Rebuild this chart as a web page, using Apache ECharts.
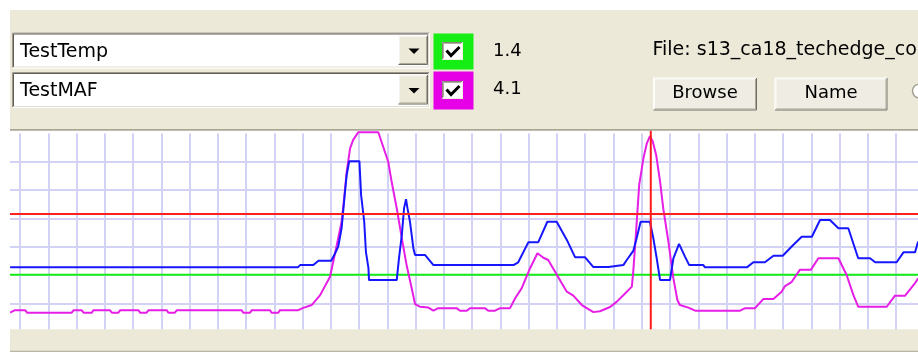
<!DOCTYPE html>
<html>
<head>
<meta charset="utf-8">
<script src="https://cdn.jsdelivr.net/npm/echarts@6/dist/echarts.min.js"></script>
<style>
html, body { margin: 0; padding: 0; background: #fff; }
#main { width: 918px; height: 352px; }
</style>
</head>
<body>
<div id="main"></div>
<script>
// selector boxes and readouts at the cursor
var channelNames = ['TestTemp', 'TestMAF'];
var channelReadouts = ['1.4', '4.1'];
var fileLabel = 'File: s13_ca18_techedge_conv.csv';
var buttonLabels = ['Browse', 'Name'];

// x: time steps (10 per grid cell), y: scaled value (10 per grid cell)
var tempPoints = [[6.5, 20.1], [327.8, 20.1]];

var mafPoints = [
  [6.5, 6.7], [8.2, 7.6], [11.8, 7.6], [12.5, 6.7], [28.3, 6.7], [29.0, 7.6], [31.8, 7.6], [32.5, 6.7],
  [35.4, 6.7], [36.0, 7.6], [41.8, 7.6], [42.5, 6.7], [44.8, 6.7], [45.5, 7.6], [51.9, 7.6], [52.5, 6.7],
  [54.8, 6.7], [55.5, 7.6], [61.9, 7.6], [62.5, 6.7], [64.8, 6.7], [65.5, 7.6], [88.4, 7.6], [89.0, 6.7],
  [91.4, 6.7], [92.0, 7.6], [98.5, 7.6], [99.0, 6.7], [101.4, 6.7], [102.0, 7.6], [108.5, 7.6], [110.0, 8.3],
  [113.2, 9.4], [116.2, 12.9], [119.7, 19.4], [122.1, 30.6], [123.8, 38.8], [124.7, 47.1], [125.6, 56.5],
  [126.8, 64.7], [127.9, 67.7], [129.7, 70.4], [136.8, 70.4], [138.3, 65.9], [140.3, 60.0], [141.5, 52.9],
  [143.3, 43.6], [145.1, 33.0], [146.8, 23.5], [148.6, 15.3], [149.8, 9.7], [151.5, 8.8], [154.5, 8.5],
  [156.3, 7.4], [158.0, 8.3], [164.5, 8.3], [165.7, 7.4], [168.1, 7.4], [169.2, 8.3], [174.5, 8.3],
  [175.7, 7.4], [178.1, 7.4], [179.9, 8.3], [183.4, 8.3], [185.2, 11.8], [187.5, 15.3], [190.5, 22.4],
  [193.1, 27.7], [195.2, 26.1], [196.9, 25.3], [199.3, 21.2], [201.7, 17.1], [203.5, 14.1], [205.8, 12.7],
  [208.8, 9.4], [212.9, 6.9], [215.2, 7.2], [218.8, 8.7], [221.2, 10.6], [224.1, 13.5], [226.5, 15.9],
  [227.0, 21.2], [228.0, 35.3], [229.1, 51.8], [230.6, 61.2], [231.8, 66.5], [232.9, 69.0], [233.9, 67.1],
  [235.1, 62.4], [236.5, 52.9], [237.6, 43.6], [239.4, 32.0], [241.2, 18.8], [242.6, 11.2], [243.5, 9.4],
  [246.5, 8.5], [248.9, 7.4], [264.8, 7.4], [266.6, 8.3], [270.1, 8.3], [273.0, 11.5], [276.6, 11.5],
  [279.5, 14.1], [280.7, 16.1], [283.1, 17.6], [286.0, 21.9], [289.9, 21.9], [292.5, 25.9], [299.6, 25.9],
  [302.5, 20.0], [304.9, 12.9], [306.6, 8.8], [316.7, 8.8], [319.6, 12.7], [323.2, 12.7], [326.7, 17.1],
  [327.8, 18.8]
];

var bluePoints = [
  [6.5, 22.7], [108.3, 22.7], [109.1, 23.5], [113.8, 23.5], [115.6, 25.0], [120.1, 25.0], [121.5, 27.7],
  [122.6, 30.0], [123.8, 36.5], [125.0, 49.4], [125.6, 55.3], [126.5, 60.2], [130.1, 60.2], [130.7, 48.2],
  [131.8, 38.8], [132.4, 28.2], [133.3, 22.4], [133.5, 18.2], [143.3, 18.2], [144.1, 25.9], [145.1, 34.1],
  [145.9, 43.6], [146.6, 46.8], [147.1, 43.6], [148.0, 38.8], [149.2, 29.4], [149.8, 27.1], [153.3, 27.1],
  [156.3, 23.5], [184.6, 23.5], [186.3, 24.5], [189.9, 31.6], [193.4, 31.6], [196.6, 38.8], [199.9, 38.8],
  [203.5, 32.4], [206.4, 26.3], [209.9, 26.3], [212.9, 22.8], [218.2, 22.8], [218.8, 23.5], [223.5, 23.5],
  [224.7, 25.3], [227.0, 28.5], [228.2, 33.0], [229.6, 38.8], [232.9, 38.8], [234.1, 33.0], [235.3, 25.9],
  [236.5, 18.2], [240.0, 18.2], [241.2, 25.9], [243.2, 31.0], [245.3, 26.5], [246.8, 23.5], [251.8, 23.5],
  [252.4, 22.7], [267.2, 22.7], [269.5, 24.5], [273.6, 24.5], [276.6, 26.8], [279.9, 26.8], [283.6, 30.6],
  [286.6, 33.5], [290.2, 33.5], [293.1, 39.4], [296.6, 39.4], [299.6, 36.5], [303.1, 36.5], [306.6, 25.9],
  [310.8, 25.9], [312.6, 24.5], [320.2, 24.5], [322.6, 28.0], [326.7, 28.0], [327.8, 31.8]
];

var redLevel = 41.5;
var cursorTime = 233.2;
var cursorSpan = [-1, 71];

var FACE = '#ECE9D8';
var FONT = '"DejaVu Sans", sans-serif';

// 3D edge of a windows control: two L shaped lines
function edge(x, y, w, h, tl, br, z) {
  return [{
    type: 'polyline', z: z, silent: true,
    shape: { points: [[x, y + h], [x, y], [x + w, y]] },
    style: { stroke: tl, lineWidth: 1, fill: null }
  }, {
    type: 'polyline', z: z, silent: true,
    shape: { points: [[x + w, y], [x + w, y + h], [x, y + h]] },
    style: { stroke: br, lineWidth: 1, fill: null }
  }];
}
function box(x, y, w, h, fill, z) {
  return { type: 'rect', z: z, silent: true, shape: { x: x, y: y, width: w, height: h }, style: { fill: fill } };
}
function label(text, x, y, align, size, z) {
  return {
    type: 'text', z: z, silent: true, x: x, y: y,
    style: { text: text, fontSize: size, fontFamily: FONT, fill: '#000', align: align, verticalAlign: 'middle' }
  };
}

var els = [];
// panels around the plot
els.push(box(0, 0, 10, 352, '#fff', 100));
els.push(box(10, 10, 908, 120, FACE, 100));
els.push(box(10, 129, 908, 1.7, '#aaa797', 100));
els.push(box(10, 329.3, 908, 22.7, FACE, 100));
els.push(box(10, 350.7, 908, 1.3, '#b8b5a6', 100));

// two combo boxes with their colour check boxes
var rowTop = [32.5, 72];
var frameColor = ['#14ee14', '#e600e6'];
rowTop.forEach(function (t, i) {
  els.push(box(12, t, 418, 36, '#fff', 101));
  els = els.concat(edge(12.5, t + 0.5, 417, 35, '#9b988b', '#ffffff', 102));
  els = els.concat(edge(13.5, t + 1.5, 415, 33, '#5f5d55', '#e3e0d3', 102));
  els.push(label(channelNames[i], 20, t + 19.5, 'left', 19, 103));
  // drop down button
  els.push(box(398, t + 2.5, 30, 30, FACE, 103));
  els = els.concat(edge(398.5, t + 3, 29, 29, '#ffffff', '#716f64', 104));
  els = els.concat(edge(399.5, t + 4, 27, 27, '#f4f3ee', '#aca899', 104));
  els.push({
    type: 'polygon', z: 105, silent: true,
    shape: { points: [[408.5, t + 16], [419.5, t + 16], [414, t + 21.5]] },
    style: { fill: '#000' }
  });
  // colour frame + check box
  var fy = i === 0 ? 33.5 : 71.5;
  els.push(box(433.5, fy, 40, i === 0 ? 36 : 38, frameColor[i], 101));
  var cy = i === 0 ? 42 : 81;
  els.push(box(442, cy, 21, 18, '#fff', 102));
  els = els.concat(edge(442.5, cy + 0.5, 20, 17, '#8a877a', '#f1efe2', 103));
  els = els.concat(edge(443.5, cy + 1.5, 18, 15, '#b0ad9f', '#ffffff', 103));
  els.push({
    type: 'polyline', z: 104, silent: true,
    shape: { points: [[446.5, cy + 8.5], [451, cy + 13.5], [459.5, cy + 5]] },
    style: { stroke: '#000', lineWidth: 3, fill: null }
  });
  els.push(label(channelReadouts[i], 493, i === 0 ? 51 : 89.5, 'left', 18, 101));
});

// file name and buttons
els.push(label(fileLabel, 652.5, 50, 'left', 19, 101));
var btnX = [653, 774.5], btnW = [104, 113];
btnX.forEach(function (x, i) {
  els.push(box(x, 77.5, btnW[i], 33, '#efede3', 101));
  els = els.concat(edge(x + 0.5, 78, btnW[i] - 1, 32, '#ffffff', '#716f64', 102));
  els = els.concat(edge(x + 1.5, 79, btnW[i] - 3, 30, '#fbfaf6', '#aca899', 102));
  els.push(label(buttonLabels[i], x + btnW[i] / 2, 93.5, 'center', 18, 103));
});
els.push({
  type: 'circle', z: 101, silent: true,
  shape: { cx: 919.5, cy: 91, r: 7 },
  style: { stroke: '#a3a091', lineWidth: 1.5, fill: '#fff' }
});

var gridLine = { show: true, showMinLine: false, showMaxLine: false, lineStyle: { color: '#d2d2f5', width: 2 } };

var chart = echarts.init(document.getElementById('main'));
chart.setOption({
  animation: false,
  backgroundColor: '#fff',
  grid: { left: -8.26, top: 133.6, width: 932.6, height: 198.07, outerBoundsMode: 'none', containLabel: false },
  xAxis: {
    type: 'value', min: 0, max: 330, interval: 10,
    axisLine: { show: false }, axisTick: { show: false }, axisLabel: { show: false },
    splitLine: gridLine
  },
  yAxis: {
    type: 'value', min: 0, max: 69.92, interval: 10,
    axisLine: { show: false }, axisTick: { show: false }, axisLabel: { show: false },
    splitLine: gridLine
  },
  series: [{
    name: 'TestTemp', type: 'line', data: tempPoints, symbol: 'none', silent: true,
    lineStyle: { color: '#14ee14', width: 2 },
    markLine: {
      silent: true, symbol: 'none', label: { show: false },
      lineStyle: { color: '#ff2020', width: 2, type: 'solid' },
      data: [{ yAxis: redLevel }]
    }
  }, {
    name: 'TestMAF', type: 'line', data: mafPoints, symbol: 'none', silent: true, clip: false,
    lineStyle: { color: '#e61ee6', width: 2 }
  }, {
    name: 'trace3', type: 'line', data: bluePoints, symbol: 'none', silent: true,
    lineStyle: { color: '#1717ff', width: 2 }
  }, {
    name: 'cursor', type: 'line', symbol: 'none', silent: true, clip: false,
    data: cursorSpan.map(function (v) { return [cursorTime, v]; }),
    lineStyle: { color: '#ff1a1a', width: 2 }
  }],
  graphic: { elements: els }
});
</script>
</body>
</html>
